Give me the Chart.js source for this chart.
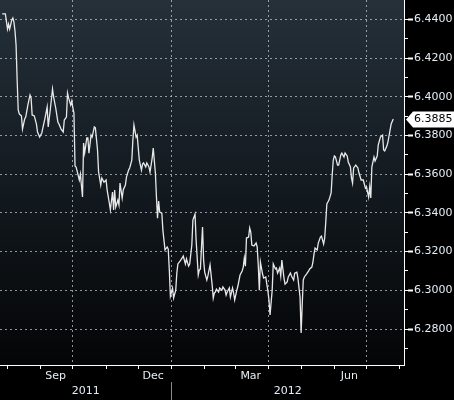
<!DOCTYPE html>
<html lang="en">
<head>
<meta charset="UTF-8">
<title>USD/CNY 1Y</title>
<script src="https://cdn.jsdelivr.net/npm/chart.js"></script>
<style>
  html, body { margin: 0; padding: 0; background: #000; }
  .wrap { position: relative; width: 454px; height: 400px; }
</style>
</head>
<body>
<div class="wrap"><canvas id="fxChart"></canvas></div>
<script>
// days since 1 Aug 2011 (trading days only) and the fixing
const days = [
  -5,-2,0,1,2,4,5,6,7,8,
  9,10,11,13,14,16,17,19,21,22,
  23,25,27,28,30,32,33,35,37,38,
  40,42,43,45,47,48,50,52,53,55,
  56,57,59,60,61,62,63,64,65,67,
  68,70,71,72,74,75,76,78,79,81,
  82,84,85,87,88,90,92,93,95,96,
  98,99,100,101,103,104,105,107,108,110,
  111,113,114,116,117,118,120,121,123,125,
  126,127,129,130,132,133,135,136,138,139,
  140,141,142,144,145,147,149,150,151,152,
  154,155,157,158,159,161,163,164,166,167,
  169,170,172,173,175,176,178,179,180,182,
  183,184,186,187,189,191,192,193,194,195,
  197,198,200,201,203,204,205,207,208,210,
  211,212,214,215,217,219,220,221,222,223,
  225,226,227,228,230,232,233,234,235,236,
  238,239,241,242,243,244,245,247,248,250,
  251,252,254,255,256,258,259,261,262,264,
  265,267,268,270,271,273,274,275,276,277,
  279,281,282,284,285,286,287,289,290,292,
  293,295,296,297,298,299,300,302,303,304,
  305,306,308,309,311,312,314,315,317,318,
  320,321,322,323,325,327,328,330,332,334,
  335,337,338,339,340,342,343,345,346,348,
  350,351,352,354,355,357,358,360
];
const rates = [
  6.4428,6.4428,6.4350,6.4376,6.4350,6.4397,6.4407,6.4386,6.4340,6.4267,
  6.4087,6.3932,6.3911,6.3901,6.3833,6.3885,6.3895,6.3957,6.4009,6.3994,
  6.3906,6.3901,6.3859,6.3818,6.3792,6.3813,6.3839,6.3890,6.3947,6.3844,
  6.3937,6.4040,6.3999,6.3942,6.3870,6.3859,6.3833,6.3818,6.3880,6.3895,
  6.4019,6.3994,6.3957,6.3978,6.3942,6.3916,6.3642,6.3637,6.3616,6.3570,
  6.3601,6.3482,6.3761,6.3709,6.3787,6.3787,6.3709,6.3802,6.3792,6.3844,
  6.3839,6.3725,6.3611,6.3544,6.3580,6.3559,6.3570,6.3518,6.3451,6.3415,
  6.3508,6.3415,6.3518,6.3430,6.3466,6.3441,6.3554,6.3477,6.3518,6.3544,
  6.3585,6.3621,6.3632,6.3673,6.3776,6.3854,6.3792,6.3802,6.3673,6.3621,
  6.3652,6.3658,6.3637,6.3658,6.3637,6.3611,6.3683,6.3735,6.3606,6.3482,
  6.3373,6.3461,6.3404,6.3399,6.3311,6.3208,6.3224,6.3213,6.3105,6.2970,
  6.3012,6.2960,6.3001,6.3089,6.3136,6.3151,6.3167,6.3177,6.3136,6.3162,
  6.3125,6.3136,6.3234,6.3363,6.3394,6.3260,6.3079,6.3105,6.3110,6.3327,
  6.3156,6.3094,6.3053,6.3074,6.3131,6.3027,6.2960,6.2986,6.2991,6.3006,
  6.2991,6.3012,6.3001,6.3017,6.3001,6.2975,6.2991,6.3012,6.2965,6.3012,
  6.2986,6.2950,6.3001,6.3022,6.3079,6.3100,6.3120,6.3167,6.3125,6.3270,
  6.3275,6.3322,6.3301,6.3234,6.3229,6.3244,6.3224,6.3131,6.3001,6.3146,
  6.3084,6.3063,6.3069,6.3032,6.2996,6.2950,6.2872,6.3001,6.3136,6.3110,
  6.3115,6.3089,6.3115,6.3074,6.3156,6.3063,6.3032,6.3043,6.3069,6.3089,
  6.3074,6.3053,6.3089,6.3094,6.3063,6.2965,6.2779,6.2924,6.3053,6.3069,
  6.3084,6.3100,6.3110,6.3120,6.3146,6.3187,6.3218,6.3208,6.3244,6.3275,
  6.3280,6.3239,6.3270,6.3353,6.3446,6.3456,6.3466,6.3503,6.3596,6.3673,
  6.3694,6.3689,6.3647,6.3647,6.3699,6.3709,6.3689,6.3709,6.3694,6.3663,
  6.3637,6.3580,6.3554,6.3632,6.3647,6.3632,6.3606,6.3570,6.3570,6.3528,
  6.3534,6.3482,6.3534,6.3477,6.3637,6.3689,6.3668,6.3694,6.3751,6.3792,
  6.3802,6.3725,6.3720,6.3745,6.3766,6.3828,6.3859,6.3885
];

// axis furniture
const monthStarts = [0, 31, 61, 92, 122, 153, 184, 213, 244, 274, 305, 335, 366];
const quarterStarts = [61, 153, 244, 335];
const monthLabelDays = [45, 136, 227, 319];
const monthLabels = ['Sep', 'Dec', 'Mar', 'Jun'];
const yearBreak = 153;
const yearLabels = ['2011', '', '2012'];
const yLabelTicks = [6.28, 6.30, 6.32, 6.34, 6.36, 6.38, 6.40, 6.42, 6.44];
const yMinorTicks = [6.27, 6.28, 6.29, 6.30, 6.31, 6.32, 6.33, 6.34, 6.35, 6.36,
                     6.37, 6.38, 6.39, 6.40, 6.41, 6.42, 6.43, 6.44];
const xMin = -7, xMax = 370;
const yMin = 6.2614, yMax = 6.4500;

const FONT = { family: 'DejaVu Sans', size: 11 };
const TEXT = '#e4edf6';
const GRID = 'rgba(190,195,200,0.75)';

// fixed axis sizes, no label overflow padding
const fixSize = (w, h) => s => {
  if (w !== null) s.width = w;
  if (h !== null) s.height = h;
  s.paddingTop = 0; s.paddingBottom = 0; s.paddingLeft = 0; s.paddingRight = 0;
};

const chartBg = {
  id: 'chartBg',
  beforeDraw(chart) {
    const { ctx, chartArea: a } = chart;
    const g = ctx.createLinearGradient(0, a.top, 0, a.bottom);
    g.addColorStop(0, '#253039');
    g.addColorStop(0.5, '#131a20');
    g.addColorStop(1, '#040506');
    ctx.save();
    ctx.fillStyle = g;
    ctx.fillRect(a.left, a.top, a.right - a.left, a.bottom - a.top);
    ctx.restore();
  }
};

// white "last price" flag on the right axis
const lastTag = {
  id: 'lastTag',
  afterDraw(chart) {
    const { ctx } = chart;
    const ys = chart.scales.y;
    const last = rates[rates.length - 1];
    const y = Math.round(ys.getPixelForValue(last)) + 0.5;
    const x0 = ys.left + 2;
    ctx.save();
    ctx.fillStyle = '#fff';
    ctx.beginPath();
    ctx.moveTo(x0, y);
    ctx.lineTo(x0 + 7, y - 8);
    ctx.lineTo(chart.width, y - 8);
    ctx.lineTo(chart.width, y + 8);
    ctx.lineTo(x0 + 7, y + 8);
    ctx.closePath();
    ctx.fill();
    ctx.fillStyle = '#000';
    ctx.font = '11px "DejaVu Sans"';
    ctx.textBaseline = 'middle';
    ctx.fillText(last.toFixed(4), x0 + 8, y);
    ctx.restore();
  }
};

new Chart(document.getElementById('fxChart'), {
  type: 'line',
  data: {
    datasets: [{
      data: days.map((d, i) => ({ x: d, y: rates[i] })),
      xAxisID: 'x',
      yAxisID: 'y',
      borderColor: '#e8e8e8',
      borderWidth: 1.3,
      pointRadius: 0,
      tension: 0,
      fill: false
    }]
  },
  options: {
    responsive: true,
    maintainAspectRatio: false,
    animation: false,
    layout: { padding: 0, autoPadding: false },
    plugins: { legend: { display: false }, tooltip: { enabled: false } },
    scales: {
      x: {
        type: 'linear', position: 'bottom', min: xMin, max: xMax, weight: 0,
        afterBuildTicks: s => { s.ticks = monthStarts.map(v => ({ value: v })); },
        afterFit: fixSize(null, 4),
        ticks: { display: false },
        grid: {
          color: c => (c.tick && quarterStarts.includes(c.tick.value)) ? GRID : 'transparent',
          tickColor: '#fff', tickLength: 4, lineWidth: 1
        },
        border: { color: '#fff', width: 1, dash: [2, 3] }
      },
      xMonth: {
        type: 'linear', position: 'bottom', min: xMin, max: xMax, weight: 1,
        afterBuildTicks: s => { s.ticks = monthLabelDays.map(v => ({ value: v })); },
        afterFit: fixSize(null, 13),
        ticks: { color: TEXT, font: FONT, padding: -7, maxRotation: 0, autoSkip: false,
                 callback: (v, i) => monthLabels[i] },
        grid: { display: false },
        border: { display: false }
      },
      xYear: {
        type: 'linear', position: 'bottom', min: xMin, max: xMax, weight: 2,
        afterBuildTicks: s => {
          s.ticks = [(xMin + yearBreak) / 2, yearBreak, (yearBreak + xMax) / 2].map(v => ({ value: v }));
        },
        afterFit: fixSize(null, 18),
        ticks: { color: TEXT, font: FONT, padding: -15, maxRotation: 0, autoSkip: false,
                 callback: (v, i) => yearLabels[i] },
        grid: { drawOnChartArea: false, tickLength: 18,
                tickColor: c => c.index === 1 ? '#8a8a8a' : 'transparent' },
        border: { display: false }
      },
      y: {
        type: 'linear', position: 'right', min: yMin, max: yMax, weight: 0,
        afterBuildTicks: s => { s.ticks = yMinorTicks.map(v => ({ value: v })); },
        afterFit: fixSize(4, null),
        ticks: { display: false },
        grid: { drawOnChartArea: false, tickLength: 4, tickColor: '#fff' },
        border: { color: '#fff', width: 1 }
      },
      yLabels: {
        type: 'linear', position: 'right', min: yMin, max: yMax, weight: 1,
        afterBuildTicks: s => { s.ticks = yLabelTicks.map(v => ({ value: v })); },
        afterFit: fixSize(46, null),
        ticks: { color: TEXT, font: FONT, padding: 1, callback: v => v.toFixed(4) },
        grid: { color: GRID, tickColor: '#fff', tickLength: 5, tickWidth: 2 },
        border: { display: false, dash: [2, 3] }
      }
    }
  },
  plugins: [chartBg, lastTag]
});
</script>
</body>
</html>
